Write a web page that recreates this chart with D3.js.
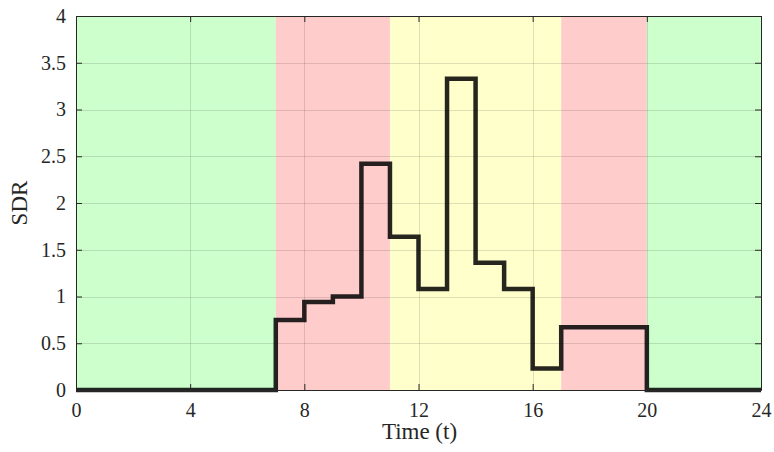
<!DOCTYPE html>
<html><head><meta charset="utf-8">
<script src="https://cdn.jsdelivr.net/npm/d3@7"></script>
<style>body{margin:0;background:#fff;}svg{display:block;} text{font-family:'Liberation Serif','Times New Roman',serif;}</style>
</head><body>
<svg id="c" width="774" height="452"></svg>
<script>
// step boundaries (hours) and SDR value held on each interval
const stepStarts = [0, 7, 8, 9, 10, 11, 12, 13, 14, 15, 16, 17, 20];
const stepEnds   = [7, 8, 9, 10, 11, 12, 13, 14, 15, 16, 17, 20, 24];
const sdrValues  = [0, 0.75, 0.94, 1.0, 2.42, 1.64, 1.08, 3.33, 1.36, 1.08, 0.23, 0.67, 0];
// background zones
const zoneStarts = [0, 7, 11, 17, 20];
const zoneEnds   = [7, 11, 17, 20, 24];
const zoneColors = ["#ccffcc", "#ffcccc", "#ffffcc", "#ffcccc", "#ccffcc"];
const xTicks = [0, 4, 8, 12, 16, 20, 24];
const yTicks = [0, 0.5, 1, 1.5, 2, 2.5, 3, 3.5, 4];
const yTickLabels = ["0", "0.5", "1", "1.5", "2", "2.5", "3", "3.5", "4"];

const L = 76, R = 761, T = 16, B = 390;
const svg = d3.select("#c");
const x = d3.scaleLinear().domain([0, 24]).range([L, R]);
const y = d3.scaleLinear().domain([0, 4]).range([B, T]);
const font = "'Liberation Serif','Times New Roman',serif";

// zones
svg.append("g").selectAll("rect").data(zoneStarts).join("rect")
  .attr("x", (d) => x(d)).attr("y", T)
  .attr("width", (d, i) => x(zoneEnds[i]) - x(d)).attr("height", B - T)
  .attr("fill", (d, i) => zoneColors[i]);

// grid
const g = svg.append("g").attr("stroke", "#262626").attr("stroke-opacity", 0.15).attr("stroke-width", 1);
g.selectAll(".gx").data(xTicks.slice(1, -1)).join("line")
  .attr("x1", (d) => Math.round(x(d)) + 0.5).attr("x2", (d) => Math.round(x(d)) + 0.5).attr("y1", T).attr("y2", B);
g.selectAll(".gy").data(yTicks.slice(1, -1)).join("line")
  .attr("y1", (d) => Math.round(y(d)) + 0.5).attr("y2", (d) => Math.round(y(d)) + 0.5).attr("x1", L).attr("x2", R);

// step line
const pts = [];
stepStarts.forEach((s, i) => { pts.push([s, sdrValues[i]]); pts.push([stepEnds[i], sdrValues[i]]); });
const line = d3.line().x((d) => x(d[0])).y((d) => y(d[1]));
svg.append("path").attr("d", line(pts)).attr("fill", "none")
  .attr("stroke", "#000").attr("stroke-opacity", 0.85).attr("stroke-width", 4.5)
  .attr("stroke-linejoin", "miter").attr("stroke-linecap", "butt");

// axes with inward ticks
const xAxisB = d3.axisBottom(x).tickValues(xTicks).tickSizeInner(-6).tickSizeOuter(0).tickPadding(13).tickFormat(d3.format("d"));
const xAxisT = d3.axisTop(x).tickValues(xTicks).tickSizeInner(-6).tickSizeOuter(0).tickFormat("");
const yAxisL = d3.axisLeft(y).tickValues(yTicks).tickSizeInner(-6).tickSizeOuter(0).tickPadding(10).tickFormat((d, i) => yTickLabels[i]);
const yAxisR = d3.axisRight(y).tickValues(yTicks).tickSizeInner(-6).tickSizeOuter(0).tickFormat("");
function style(sel) {
  sel.attr("font-family", null).attr("font-size", null);
  sel.selectAll("path").attr("stroke", "#262626").attr("stroke-width", 1);
  sel.selectAll("line").attr("stroke", "#262626").attr("stroke-width", 1);
  sel.selectAll("text").style("font-family", font).style("font-size", "20px").attr("fill", "#262626");
}
svg.append("g").attr("transform", `translate(0,${B})`).call(xAxisB).call(style);
svg.append("g").attr("transform", `translate(0,${T})`).call(xAxisT).call(style);
svg.append("g").attr("transform", `translate(${L},0)`).call(yAxisL).call(style);
svg.append("g").attr("transform", `translate(${R},0)`).call(yAxisR).call(style);

svg.append("text").attr("x", (L + R) / 2 + 1).attr("y", 439).attr("text-anchor", "middle")
  .style("font-family", font).style("font-size", "23px").attr("fill", "#262626").text("Time (t)");
svg.append("text").attr("transform", `translate(27,${(T + B) / 2}) rotate(-90)`).attr("text-anchor", "middle")
  .style("font-family", font).style("font-size", "23px").attr("fill", "#262626").text("SDR");
</script>
</body></html>
